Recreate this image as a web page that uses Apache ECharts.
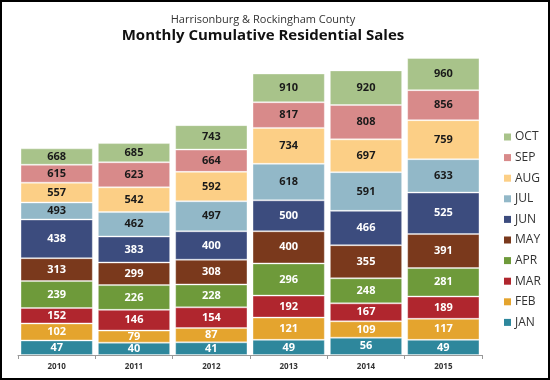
<!DOCTYPE html>
<html><head><meta charset="utf-8">
<script src="https://cdn.jsdelivr.net/npm/echarts@6/dist/echarts.min.js"></script>
<style>html,body{margin:0;padding:0;background:#fff}#c{width:550px;height:380px}</style>
</head><body><div id="c"></div>
<script>
const years = ['2010','2011','2012','2013','2014','2015'];
const months = ['JAN','FEB','MAR','APR','MAY','JUN','JUL','AUG','SEP','OCT'];
// cumulative sales per year, JAN..OCT
const cum2010 = [47,102,152,239,313,438,493,557,615,668];
const cum2011 = [40,79,146,226,299,383,462,542,623,685];
const cum2012 = [41,87,154,228,308,400,497,592,664,743];
const cum2013 = [49,121,192,296,400,500,618,734,817,910];
const cum2014 = [56,109,167,248,355,466,591,697,808,920];
const cum2015 = [49,117,189,281,391,525,633,759,856,960];
const colors = ['#2E879C','#E4A42E','#B0262E','#6E9A3A','#7A391C','#3C4C7E','#92B8C8','#FCCF86','#D88A8A','#A8C38A'];
const darkText = [false,false,false,false,false,false,true,true,true,true];

const cums = [cum2010,cum2011,cum2012,cum2013,cum2014,cum2015];
const series = months.map((m,i)=>({
  name:m, type:'bar', stack:'s', barCategoryGap:'6.5%',
  itemStyle:{color:colors[i], borderColor:'rgba(255,255,255,0.35)', borderWidth:1},
  label:{show:true, position:'inside', color: darkText[i]?'#1a1a1a':'#ffffff', fontFamily:'Open Sans', fontWeight:'bold', fontSize:11,
    formatter:p=>cums[p.dataIndex][i]},
  data: cums.map(c=> i===0 ? c[0] : c[i]-c[i-1])
}));
const chart = echarts.init(document.getElementById('c'));
chart.setOption({
  animation:false,
  title:[
    {text:'Harrisonburg & Rockingham County', left:258, top:9, textAlign:'center',
     textStyle:{fontFamily:'Open Sans', fontWeight:'normal', fontSize:11, color:'#333'}},
    {text:'Monthly Cumulative Residential Sales', left:258, top:23, textAlign:'center',
     textStyle:{fontFamily:'Open Sans', fontWeight:'bold', fontSize:15, color:'#111'}}
  ],
  legend:{orient:'vertical', left:499, top:126, icon:'rect', itemWidth:7, itemHeight:7, itemGap:8.6,
    itemStyle:{borderWidth:0},
    data: months.slice().reverse(),
    textStyle:{fontFamily:'Open Sans', fontSize:12, color:'#333', padding:[0,0,0,-1]}},
  grid:{left:18, right:68, top:58, bottom:25},
  xAxis:{type:'category', data:years,
    axisLine:{lineStyle:{color:'#999'}},
    axisTick:{show:true, lineStyle:{color:'#999'}, length:4},
    axisLabel:{fontFamily:'Open Sans', fontSize:8, fontWeight:'bold', color:'#333', margin:8}},
  yAxis:{type:'value', min:0, max:960, show:false, splitLine:{show:false}},
  series:series,
  graphic:[{type:'rect', shape:{x:1, y:1, width:548, height:378}, style:{fill:'none', stroke:'#000', lineWidth:2}, z:100}]
});
</script></body></html>
